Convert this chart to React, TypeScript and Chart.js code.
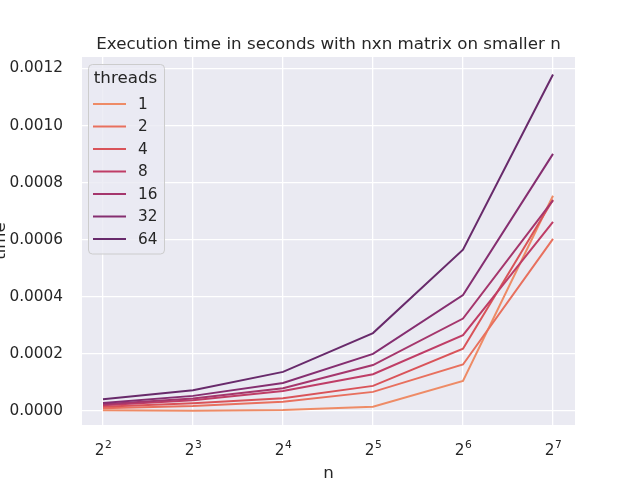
import React, { useEffect, useRef } from "react";
import { Chart, registerables } from "chart.js";

Chart.register(...registerables);

const nValues = [4, 8, 16, 32, 64, 128];
const threadLabels = ["1", "2", "4", "8", "16", "32", "64"];
const t1 = [0.000003, 0.000001, 0.0000035, 0.000015, 0.000105, 0.000754];
const t2 = [0.00001, 0.0000175, 0.000032, 0.000067, 0.000163, 0.000603];
const t4 = [0.000015, 0.000027, 0.0000445, 0.000088, 0.000218, 0.00074];
const t8 = [0.00002, 0.0000375, 0.00007, 0.000129, 0.000266, 0.000663];
const t16 = [0.000024, 0.000044, 0.00008, 0.000161, 0.000324, 0.000738];
const t32 = [0.000028, 0.000053, 0.000098, 0.0002, 0.000406, 0.000901];
const t64 = [0.000041, 0.0000726, 0.000137, 0.000273, 0.000565, 0.001179];
const seriesValues = [t1, t2, t4, t8, t16, t32, t64];
const colors = ["#ee8b66", "#e8705e", "#d95359", "#bf3d66", "#a5366c", "#852e70", "#682a6b"];
const yTicks = [0, 0.0002, 0.0004, 0.0006, 0.0008, 0.001, 0.0012];
const xTickExps = [2, 3, 4, 5, 6, 7];
const titleText = "Execution time in seconds with nxn matrix on smaller n";

const FONT = "'DejaVu Sans', sans-serif";
const TEXT = "#262626";

const bgPlugin = {
  id: "bgPlugin",
  beforeDraw(chart: any) {
    const { ctx, chartArea } = chart;
    ctx.save();
    ctx.fillStyle = "#eaeaf2";
    ctx.fillRect(chartArea.left, chartArea.top, chartArea.right - chartArea.left, chartArea.bottom - chartArea.top);
    ctx.restore();
  },
};

const titlePlugin = {
  id: "plotTitle",
  afterDraw(chart: any) {
    const { ctx, chartArea } = chart;
    ctx.save();
    ctx.fillStyle = TEXT;
    ctx.font = `16.7px ${FONT}`;
    ctx.textAlign = "center";
    ctx.textBaseline = "alphabetic";
    ctx.fillText(titleText, (chartArea.left + chartArea.right) / 2, chartArea.top - 8);
    ctx.restore();
  },
};

const powerTicksPlugin = {
  id: "powerTicks",
  afterDraw(chart: any) {
    const { ctx } = chart;
    const scale = chart.scales.x;
    ctx.save();
    ctx.fillStyle = TEXT;
    ctx.textBaseline = "alphabetic";
    ctx.textAlign = "left";
    const baseY = chart.chartArea.bottom + 30;
    scale.ticks.forEach((t: any) => {
      const px = scale.getPixelForValue(t.value);
      const base = "2";
      const sup = String(t.value);
      ctx.font = `15.3px ${FONT}`;
      const wb = ctx.measureText(base).width;
      ctx.font = `10.7px ${FONT}`;
      const ws = ctx.measureText(sup).width;
      const start = px - (wb + ws) / 2;
      ctx.font = `15.3px ${FONT}`;
      ctx.fillText(base, start, baseY);
      ctx.font = `10.7px ${FONT}`;
      ctx.fillText(sup, start + wb + 0.5, baseY - 7);
    });
    ctx.restore();
  },
};

const legendPlugin = {
  id: "boxLegend",
  afterDatasetsDraw(chart: any) {
    const { ctx } = chart;
    const x0 = 88.5, y0 = 64.5, w = 76, h = 189.5, r = 4;
    ctx.save();
    ctx.beginPath();
    ctx.moveTo(x0 + r, y0);
    ctx.lineTo(x0 + w - r, y0);
    ctx.quadraticCurveTo(x0 + w, y0, x0 + w, y0 + r);
    ctx.lineTo(x0 + w, y0 + h - r);
    ctx.quadraticCurveTo(x0 + w, y0 + h, x0 + w - r, y0 + h);
    ctx.lineTo(x0 + r, y0 + h);
    ctx.quadraticCurveTo(x0, y0 + h, x0, y0 + h - r);
    ctx.lineTo(x0, y0 + r);
    ctx.quadraticCurveTo(x0, y0, x0 + r, y0);
    ctx.closePath();
    ctx.fillStyle = "rgba(234,234,242,0.8)";
    ctx.fill();
    ctx.strokeStyle = "#cccccc";
    ctx.lineWidth = 1;
    ctx.stroke();

    ctx.fillStyle = TEXT;
    ctx.font = `16.7px ${FONT}`;
    ctx.textAlign = "center";
    ctx.textBaseline = "middle";
    ctx.fillText("threads", 125.5, 79);

    ctx.font = `15.3px ${FONT}`;
    ctx.textAlign = "left";
    chart.data.datasets.forEach((ds: any, i: number) => {
      const y = 104 + i * 22.5;
      ctx.strokeStyle = ds.borderColor;
      ctx.lineWidth = 2;
      ctx.beginPath();
      ctx.moveTo(93, y);
      ctx.lineTo(126, y);
      ctx.stroke();
      ctx.fillStyle = TEXT;
      ctx.fillText(ds.label, 138, y + 1);
    });
    ctx.restore();
  },
};

export default function App() {
  const ref = useRef<HTMLCanvasElement>(null);
  useEffect(() => {
    if (!ref.current) return;
    const datasets = seriesValues.map((vals, i) => ({
      label: threadLabels[i],
      data: vals.map((v, j) => ({ x: Math.log2(nValues[j]), y: v })),
      borderColor: colors[i],
      backgroundColor: colors[i],
      borderWidth: 2,
      pointRadius: 0,
      fill: false,
      tension: 0,
      order: seriesValues.length - 1 - i,
    }));
    const pxPerUnit = 342.5 / 0.0012;
    const chart = new Chart(ref.current, {
      type: "line",
      data: { datasets },
      plugins: [bgPlugin, legendPlugin, powerTicksPlugin, titlePlugin],
      options: {
        animation: false,
        responsive: false,
        devicePixelRatio: 1,
        layout: { padding: { left: 0, right: 65, top: 57, bottom: 0 } },
        plugins: {
          legend: { display: false },
          tooltip: { enabled: false },
          title: { display: false },
        },
        scales: {
          x: {
            type: "linear",
            min: 2 - 21 / 90,
            max: 7 + 22 / 90,
            afterBuildTicks: (scale: any) => {
              scale.ticks = xTickExps.map((v) => ({ value: v }));
            },
            afterFit: (scale: any) => {
              scale.height = 55;
            },
            ticks: { display: false },
            grid: { color: "#ffffff", lineWidth: 1.3, drawTicks: false },
            border: { display: false },
            title: {
              display: true,
              text: "n",
              color: TEXT,
              font: { family: FONT, size: 16.7 },
              padding: { top: 0, bottom: -4 },
            },
          },
          y: {
            type: "linear",
            min: -14 / pxPerUnit,
            max: 0.0012 + 11.5 / pxPerUnit,
            afterBuildTicks: (scale: any) => {
              scale.ticks = yTicks.map((v) => ({ value: v }));
            },
            afterFit: (scale: any) => {
              scale.width = 82;
            },
            ticks: {
              color: TEXT,
              font: { family: FONT, size: 15.3 },
              padding: 19,
              autoSkip: false,
              callback: (v: any) => Number(v).toFixed(4),
            },
            grid: { color: "#ffffff", lineWidth: 1.3, drawTicks: false },
            border: { display: false },
            title: {
              display: true,
              text: "time",
              color: TEXT,
              font: { family: FONT, size: 16.7 },
              padding: { top: -9, bottom: 0 },
            },
          },
        },
      } as any,
    });
    return () => chart.destroy();
  }, []);
  return (
    <div style={{ position: "fixed", left: 0, top: 0, width: 640, height: 480, background: "#ffffff" }}>
      <canvas ref={ref} width={640} height={480} style={{ display: "block", width: 640, height: 480 }} />
    </div>
  );
}
